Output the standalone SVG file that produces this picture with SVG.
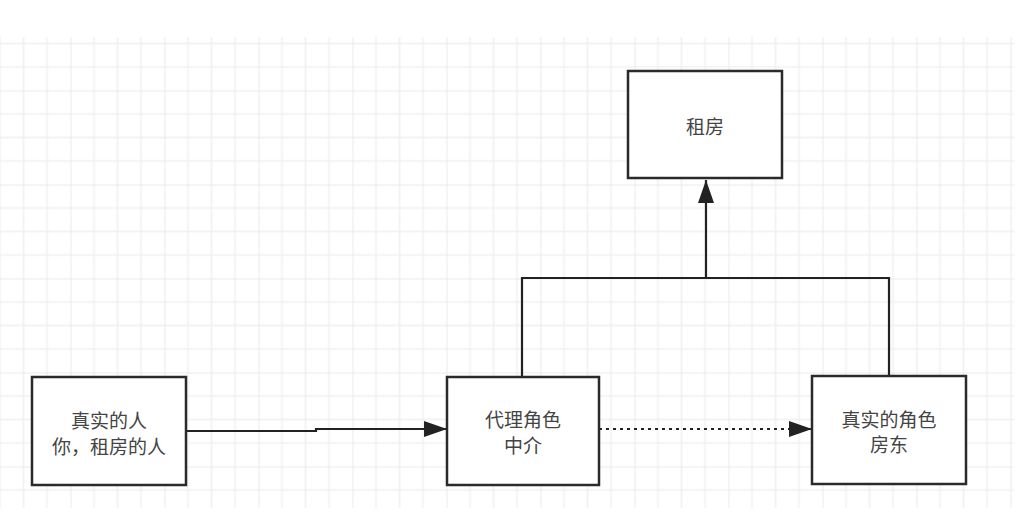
<svg xmlns="http://www.w3.org/2000/svg" width="1024" height="520" viewBox="0 0 1024 520">
  <style>
    .box { fill: #ffffff; stroke: #2a2a2a; stroke-width: 2.5; }
    .lbl { font-family: "Noto Sans CJK SC", "Noto Sans", sans-serif; font-size: 19px; fill: #444444; text-anchor: middle; dominant-baseline: central; }
    .edge { fill: none; stroke: #222222; stroke-width: 2.2; }
    .dot { stroke-dasharray: 3 4; }
  </style>
  <defs>
    <pattern id="grid" patternUnits="userSpaceOnUse" x="-23.5" y="-3.5" width="94" height="94">
      <path d="M23.5,0 V94 M47,0 V94 M70.5,0 V94 M0,23.5 H94 M0,47 H94 M0,70.5 H94" stroke="#f0f0f0" stroke-width="1.5" fill="none"/>
      <path d="M0,0 V94 M0,0 H94" stroke="#e5e5e5" stroke-width="1.5" fill="none"/>
    </pattern>
    <marker id="arrow" markerUnits="userSpaceOnUse" markerWidth="23" markerHeight="16" viewBox="0 0 23 16" refX="23" refY="8" orient="auto">
      <path d="M0,0 L23,8 L0,16 z" fill="#222222"/>
    </marker>
  </defs>
  <rect x="0" y="0" width="1024" height="520" fill="#ffffff"/>
  <rect x="0" y="37" width="1014" height="471" fill="url(#grid)"/>

  <g id="connectors">
    <path class="edge" d="M186,431 H316 V429 H447" marker-end="url(#arrow)"/>
    <path class="edge dot" d="M599,429 H812" marker-end="url(#arrow)"/>
    <path class="edge" d="M522,377 V278 H889 V376"/>
    <path class="edge" d="M706,278 V180" marker-end="url(#arrow)"/>
  </g>

  <g id="node-rent">
    <rect class="box" x="628" y="71" width="154" height="107"/>
    <text class="lbl" x="705" y="125">租房</text>
  </g>
  <g id="node-real-person">
    <rect class="box" x="32" y="377" width="154" height="108"/>
    <text class="lbl" x="109" y="419">真实的人</text>
    <text class="lbl" x="109" y="445">你，租房的人</text>
  </g>
  <g id="node-proxy">
    <rect class="box" x="447" y="377" width="152" height="108"/>
    <text class="lbl" x="523" y="418">代理角色</text>
    <text class="lbl" x="523" y="444">中介</text>
  </g>
  <g id="node-landlord">
    <rect class="box" x="812" y="376" width="154" height="108"/>
    <text class="lbl" x="889" y="418">真实的角色</text>
    <text class="lbl" x="889" y="443">房东</text>
  </g>
</svg>
